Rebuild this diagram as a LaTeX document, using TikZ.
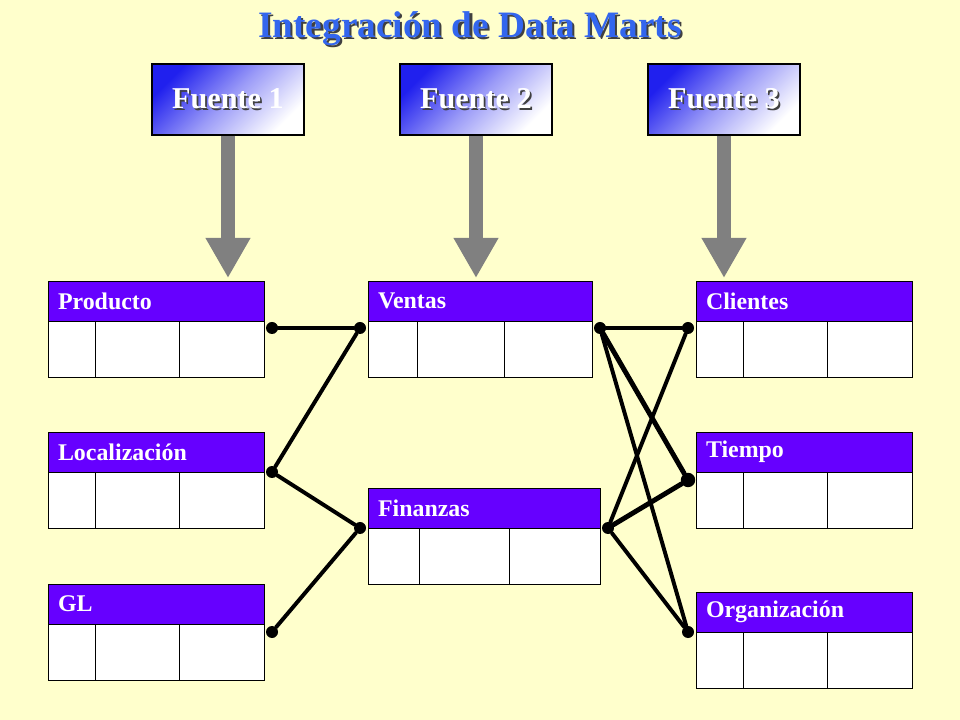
\documentclass[tikz,border=0pt]{standalone}
\usepackage{fontspec}
\setmainfont{Liberation Serif}
\usetikzlibrary{arrows.meta,positioning,calc}

\definecolor{bgyellow}{HTML}{FFFFCC}
\definecolor{hdrviolet}{HTML}{6600FF}
\definecolor{titleblue}{HTML}{3366EE}
\definecolor{srcblue}{HTML}{2020EE}
\definecolor{arrowgray}{HTML}{808080}

\newcommand{\dropshadow}[2]{\leavevmode\rlap{\kern#1\raisebox{-#1}{\textcolor{black!75}{#2}}}#2}

\begin{document}
\begin{tikzpicture}[
    x=0.025cm, y=-0.025cm,
    title/.style={font=\bfseries\fontsize{26.5}{30}\selectfont, text=titleblue},
    source/.style={draw=black, line width=0.8pt, minimum width=3.8cm, minimum height=1.775cm, inner sep=0pt, top color=srcblue, bottom color=white, middle color=srcblue!45, shading angle=45, text=white, font=\bfseries\fontsize{21.5}{24}\selectfont},
    header/.style={draw=black, line width=0.7pt, fill=hdrviolet, text=white, text width=#1, inner xsep=0.25cm, inner ysep=0pt, minimum height=1cm, outer sep=0pt, font=\bfseries\fontsize{17}{20}\selectfont, anchor=north west},
    cells/.style={draw=black, line width=0.7pt, fill=white, minimum width=#1, minimum height=1.4cm, inner sep=0pt, outer sep=0pt},
    dot/.style={circle, fill=black, inner sep=0pt, minimum size=0.3cm},
    link/.style={line width=2.8pt, line cap=round},
    flow/.style={draw=arrowgray, line width=0.35cm, -{Triangle[width=1.05cm, length=1cm]}, shorten >=0.075cm}
]

\useasboundingbox (0,0) rectangle (960,720);
\fill[bgyellow] (0,0) rectangle (960,720);

% Title
\node[title] (title) at (470,30) {\dropshadow{1.5pt}{Integración de Data Marts}};

% Sources
\node[source] (f1) at (228,99.5) {\dropshadow{1.2pt}{Fuente} 1};
\node[source] (f2) at (476,99.5) {\dropshadow{1.2pt}{Fuente 2}};
\node[source] (f3) at (724,99.5) {\dropshadow{1.2pt}{Fuente 3}};

% Data marts (left column)
\node[header=4.9cm] (prod) at (48,281) {Producto};
\node[cells=5.4cm, below=0pt of prod] (prod-c) {};
\node[header=4.9cm] (loc) at (48,432) {Localización};
\node[cells=5.4cm, below=0pt of loc] (loc-c) {};
\node[header=4.9cm] (gl) at (48,584) {GL};
\node[cells=5.4cm, below=0pt of gl] (gl-c) {};

% Data marts (center column)
\node[header=5.1cm] (ven) at (368,281) {Ventas};
\node[cells=5.6cm, below=0pt of ven] (ven-c) {};
\node[header=5.3cm] (fin) at (368,488) {Finanzas};
\node[cells=5.8cm, below=0pt of fin] (fin-c) {};

% Data marts (right column)
\node[header=4.9cm] (cli) at (696,281) {Clientes};
\node[cells=5.4cm, below=0pt of cli] (cli-c) {};
\node[header=4.9cm] (tie) at (696,432) {Tiempo};
\node[cells=5.4cm, below=0pt of tie] (tie-c) {};
\node[header=4.9cm] (org) at (696,592) {Organización};
\node[cells=5.4cm, below=0pt of org] (org-c) {};

% Column dividers
\foreach \t in {prod,loc,gl,ven,fin,cli,tie,org}
  \foreach \f in {0.22,0.61}
    \draw[line width=0.7pt] ($(\t-c.north west)!\f!(\t-c.north east)$) -- ($(\t-c.south west)!\f!(\t-c.south east)$);

% Source arrows
\draw[flow] (f1.south) -- (f1.south |- prod.north);
\draw[flow] (f2.south) -- (f2.south |- ven.north);
\draw[flow] (f3.south) -- (f3.south |- cli.north);

% Connection points
\node[dot] (pdot) at (272,328) {};
\node[dot] (ldot) at (272,472) {};
\node[dot] (gdot) at (272,632) {};
\node[dot] (vldot) at (360,328) {};
\node[dot] (fldot) at (360,528) {};
\node[dot] (vrdot) at (600,328) {};
\node[dot] (frdot) at (608,528) {};
\node[dot] (cdot) at (688,328) {};
\node[dot, minimum size=0.36cm] (tdot) at (688,480) {};
\node[dot] (odot) at (688,632) {};

% Links
\draw[link] (pdot) -- (vldot);
\draw[link] (ldot) -- (vldot);
\draw[link] (ldot) -- (fldot);
\draw[link] (gdot) -- (fldot);
\draw[link] (vrdot) -- (cdot);
\draw[link, line width=3.5pt] (vrdot) -- (tdot);
\draw[link] (vrdot) -- (odot);
\draw[link] (frdot) -- (cdot);
\draw[link, line width=3.5pt] (frdot) -- (tdot);
\draw[link] (frdot) -- (odot);

\end{tikzpicture}
\end{document}
